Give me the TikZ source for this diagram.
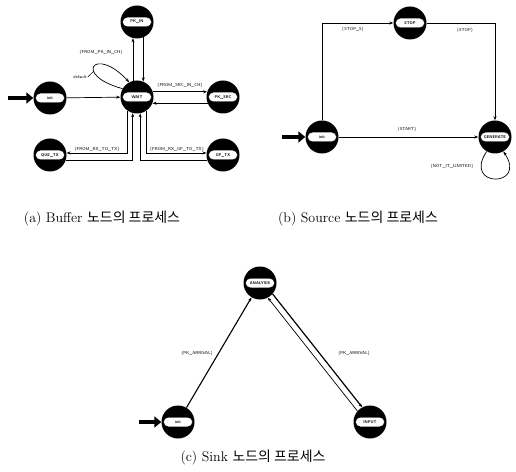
\documentclass[tikz,border=0pt]{standalone}
\usepackage{fontspec}
\newfontfamily\krfont{Noto Sans CJK KR}
\usetikzlibrary{arrows.meta,shapes.misc,positioning,calc}

% one process state: black ball with a white band carrying the name
\newcommand{\procnode}[3]{%
  \node[procball] (#1) at (#2) {};
  \node[procpill] (#1-pill) at (#1) {#3};}

\begin{document}
\begin{tikzpicture}[x=1bp,y=-1bp,
  procball/.style={circle,fill=black,minimum size=33bp,inner sep=0pt},
  procpill/.style={rounded rectangle,fill=white,draw=black,line width=0.4bp,
    minimum width=29bp,minimum height=9.5bp,
    inner sep=0pt,font=\fontsize{4}{4.5}\selectfont\sffamily\bfseries},
  arr/.style={-{Stealth[length=4bp,width=3bp]},line width=0.7bp},
  fatarr/.style={-{Triangle[length=7bp,width=11bp]},line width=3.5bp},
  lbl/.style={font=\fontsize{4.3}{5}\selectfont\sffamily,inner sep=1bp},
  caption/.style={font=\fontsize{14}{16}\selectfont,inner sep=0pt},
]
\useasboundingbox (0,0) rectangle (516,472);

%% (a) Buffer
\procnode{pkin}{137,22}{PK\_IN}
\procnode{wait}{137,97}{WAIT}
\procnode{inita}{50,98}{init}
\procnode{pksrc}{223,97}{PK\_SRC}
\procnode{quetx}{50,155}{QUE\_TX}
\procnode{gptx}{223,155}{GP\_TX}

\coordinate (starta) at (8,98);
\draw[fatarr] (starta) -- (inita.west);
\draw[arr] (inita) -- (wait);

\draw[arr] (pkin.292) -- (wait.68);
\draw[arr] (wait.104) -- (pkin.256);
\node[lbl] (lpkin) at (101,52) {\{FROM\_PK\_IN\_CH\}};

\draw[arr] (wait.150) .. controls (72,75) and (95,45) .. (wait.118);
\node[lbl] (ldflt) at (80,77) {default};
\coordinate (dfltend) at (94,71);
\draw[line width=0.5bp] (ldflt.east) -- (dfltend);

\draw[arr] (wait.18) -- (pksrc.162);
\draw[arr] (pksrc.202) -- (wait.-22);
\node[lbl] (lpksrc) at (180,85) {\{FROM\_SRC\_IN\_CH\}};

\draw[arr] (wait.236) |- (quetx.7);
\draw[arr] (quetx.-18) -| (wait.255);
\node[lbl] (lquetx) at (97,149) {\{FROM\_RX\_TO\_TX\}};

\draw[arr] (wait.304) |- (gptx.173);
\draw[arr] (gptx.198) -| (wait.281);
\node[lbl] (lgptx) at (177,149) {\{FROM\_RX\_GP\_TO\_TX\}};

\node[caption] (capa) at (102,218) {(a) Buffer {\krfont 노드의 프로세스}};

%% (b) Source
\procnode{stop}{410,23}{STOP}
\procnode{initb}{322,137}{init}
\procnode{gen}{495,137}{GENERATE}

\coordinate (startb) at (282,137);
\draw[fatarr] (startb) -- (initb.west);
\draw[arr] (initb.north) |- (stop.west);
\node[lbl] (lstops) at (353,29) {\{STOP\_S\}};
\draw[arr] (stop.east) -| (gen.north);
\node[lbl] (lstop) at (465,30) {\{STOP\}};
\draw[arr] (initb) -- (gen);
\node[lbl] (lstart) at (407,129) {\{START\}};
\draw[arr] (gen.240) .. controls (462,188) and (528,188) .. (gen.300);
\node[lbl] (lnolim) at (452,166) {\{NOT\_IT\_LIMITED\}};

\node[caption] (capb) at (358,218) {(b) Source {\krfont 노드의 프로세스}};

%% (c) Sink
\procnode{analysis}{260,283}{ANALYSIS}
\procnode{initc}{178,422}{init}
\procnode{input}{370,422}{INPUT}

\coordinate (startc) at (139,422);
\draw[fatarr] (startc) -- (initc.west);
\draw[arr,line width=1.1bp] (initc) -- (analysis);
\node[lbl] (lpkarr) at (197,353) {\{PK\_ARRIVAL\}};
\draw[arr,line width=1.2bp] (analysis.-41) -- (input.118);
\draw[arr] (input.139) -- (analysis.-62);
\node[lbl] (lpkarr2) at (354,353) {\{PK\_ARRIVAL\}};

\node[caption] (capc) at (253,457) {(c) Sink {\krfont 노드의 프로세스}};
\end{tikzpicture}
\end{document}
